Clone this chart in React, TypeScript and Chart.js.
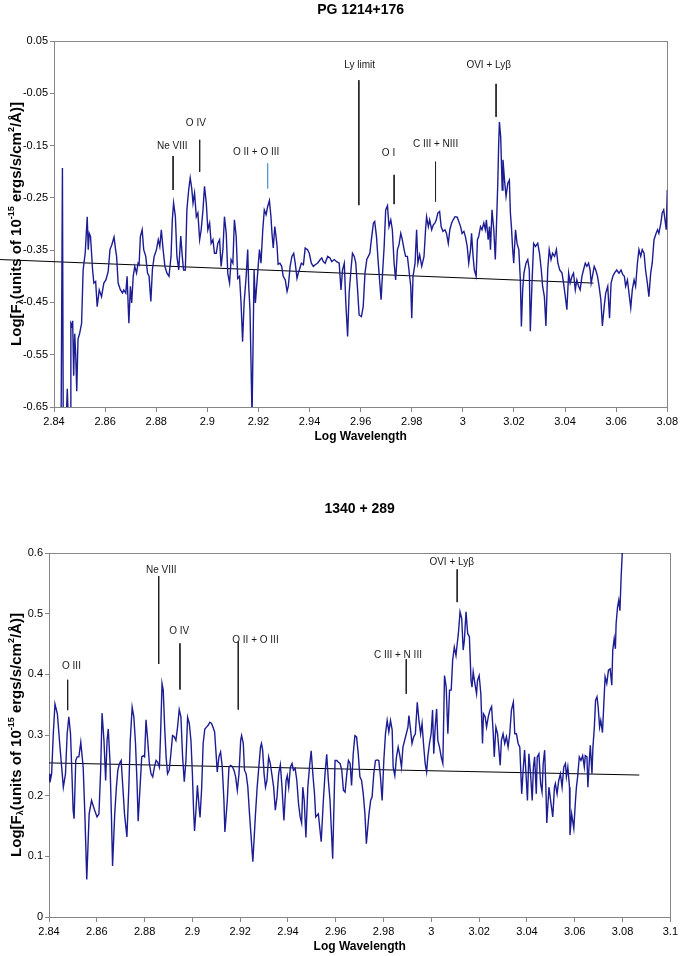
import React, { useEffect, useRef } from 'react';
import { Chart, registerables } from 'chart.js';

Chart.register(...registerables);

const FONT = '"Liberation Sans", Arial, Helvetica, sans-serif';

// ---------- PG 1214+176 (top panel) ----------
const topTitle = 'PG 1214+176';
const topXTicks = [2.84, 2.86, 2.88, 2.9, 2.92, 2.94, 2.96, 2.98, 3.0, 3.02, 3.04, 3.06, 3.08];
const topYTicks = [-0.65, -0.55, -0.45, -0.35, -0.25, -0.15, -0.05, 0.05];
// [log wavelength, log flux]
const topSpectrum: [number, number][] = [
  [2.8428,-0.66],[2.8433,-0.193],[2.8436,-0.66],[2.8449,-0.66],[2.8452,-0.615],[2.8455,-0.66],[2.8463,-0.66],
  [2.8466,-0.49],[2.8470,-0.495],[2.8473,-0.485],[2.8477,-0.59],[2.8481,-0.51],[2.8485,-0.55],[2.8489,-0.62],
  [2.8494,-0.52],[2.8500,-0.51],[2.8508,-0.49],[2.8514,-0.388],[2.8522,-0.356],[2.8530,-0.286],[2.8534,-0.349],
  [2.8538,-0.318],[2.8543,-0.324],[2.8551,-0.388],[2.8556,-0.413],[2.8563,-0.410],[2.8569,-0.458],[2.8577,-0.426],
  [2.8586,-0.439],[2.8595,-0.413],[2.8603,-0.407],[2.8612,-0.391],[2.8619,-0.349],[2.8626,-0.340],[2.8635,-0.325],
  [2.8641,-0.349],[2.8645,-0.362],[2.8651,-0.413],[2.8660,-0.426],[2.8668,-0.432],[2.8673,-0.426],[2.8681,-0.432],
  [2.8686,-0.400],[2.8693,-0.490],[2.8699,-0.419],[2.8704,-0.451],[2.8710,-0.400],[2.8716,-0.381],[2.8723,-0.394],
  [2.8729,-0.375],[2.8733,-0.378],[2.8738,-0.324],[2.8745,-0.311],[2.8751,-0.349],[2.8759,-0.362],[2.8766,-0.394],
  [2.8772,-0.400],[2.8779,-0.448],[2.8785,-0.388],[2.8792,-0.362],[2.8801,-0.349],[2.8808,-0.330],[2.8814,-0.343],
  [2.8820,-0.311],[2.8827,-0.349],[2.8834,-0.381],[2.8842,-0.394],[2.8850,-0.400],[2.8858,-0.362],[2.8863,-0.292],
  [2.8868,-0.260],[2.8875,-0.286],[2.8881,-0.362],[2.8888,-0.388],[2.8896,-0.323],[2.8902,-0.362],[2.8907,-0.388],
  [2.8914,-0.388],[2.8920,-0.273],[2.8927,-0.235],[2.8933,-0.212],[2.8939,-0.232],[2.8944,-0.260],[2.8950,-0.241],
  [2.8957,-0.286],[2.8963,-0.279],[2.8970,-0.330],[2.8976,-0.311],[2.8983,-0.273],[2.8989,-0.228],[2.8996,-0.260],
  [2.9002,-0.311],[2.9009,-0.298],[2.9015,-0.337],[2.9022,-0.330],[2.9028,-0.356],[2.9035,-0.356],[2.9041,-0.337],
  [2.9048,-0.330],[2.9054,-0.381],[2.9061,-0.349],[2.9067,-0.286],[2.9074,-0.318],[2.9080,-0.394],[2.9087,-0.413],
  [2.9093,-0.368],[2.9100,-0.375],[2.9106,-0.292],[2.9113,-0.324],[2.9119,-0.404],[2.9126,-0.400],[2.9132,-0.451],
  [2.9138,-0.525],[2.9144,-0.450],[2.9152,-0.400],[2.9158,-0.349],[2.9162,-0.419],[2.9167,-0.464],[2.9175,-0.67],
  [2.9183,-0.388],[2.9188,-0.451],[2.9197,-0.394],[2.9204,-0.349],[2.9210,-0.375],[2.9217,-0.311],[2.9223,-0.273],
  [2.9230,-0.282],[2.9236,-0.267],[2.9243,-0.255],[2.9249,-0.286],[2.9253,-0.318],[2.9258,-0.346],[2.9264,-0.305],
  [2.9269,-0.324],[2.9273,-0.343],[2.9277,-0.377],[2.9284,-0.375],[2.9291,-0.381],[2.9297,-0.400],[2.9305,-0.407],
  [2.9312,-0.429],[2.9317,-0.419],[2.9324,-0.381],[2.9331,-0.362],[2.9338,-0.356],[2.9344,-0.375],[2.9351,-0.404],
  [2.9356,-0.394],[2.9360,-0.388],[2.9368,-0.375],[2.9376,-0.378],[2.9383,-0.346],[2.9392,-0.349],[2.9399,-0.356],
  [2.9407,-0.375],[2.9415,-0.381],[2.9422,-0.378],[2.9431,-0.375],[2.9442,-0.368],[2.9448,-0.365],[2.9454,-0.372],
  [2.9461,-0.375],[2.9471,-0.362],[2.9480,-0.365],[2.9487,-0.372],[2.9497,-0.368],[2.9506,-0.372],[2.9516,-0.375],
  [2.9523,-0.426],[2.9529,-0.388],[2.9536,-0.375],[2.9542,-0.451],[2.9549,-0.515],[2.9555,-0.432],[2.9562,-0.388],
  [2.9568,-0.356],[2.9575,-0.362],[2.9581,-0.375],[2.9588,-0.426],[2.9594,-0.474],[2.9603,-0.477],[2.9610,-0.458],
  [2.9617,-0.394],[2.9624,-0.368],[2.9630,-0.362],[2.9636,-0.356],[2.9642,-0.330],[2.9650,-0.298],[2.9655,-0.295],
  [2.9662,-0.324],[2.9668,-0.368],[2.9675,-0.413],[2.9680,-0.445],[2.9685,-0.400],[2.9692,-0.343],[2.9698,-0.273],
  [2.9705,-0.265],[2.9711,-0.305],[2.9718,-0.292],[2.9724,-0.311],[2.9731,-0.375],[2.9737,-0.407],[2.9744,-0.349],
  [2.9750,-0.340],[2.9757,-0.318],[2.9763,-0.330],[2.9770,-0.349],[2.9776,-0.362],[2.9783,-0.362],[2.9789,-0.388],
  [2.9796,-0.419],[2.9800,-0.480],[2.9805,-0.400],[2.9813,-0.375],[2.9819,-0.311],[2.9824,-0.375],[2.9831,-0.359],
  [2.9839,-0.381],[2.9848,-0.362],[2.9854,-0.311],[2.9858,-0.286],[2.9865,-0.305],[2.9870,-0.292],[2.9878,-0.311],
  [2.9884,-0.302],[2.9891,-0.298],[2.9896,-0.292],[2.9902,-0.279],[2.9909,-0.276],[2.9915,-0.305],[2.9922,-0.314],
  [2.9930,-0.311],[2.9936,-0.318],[2.9943,-0.337],[2.9949,-0.311],[2.9956,-0.298],[2.9962,-0.292],[2.9969,-0.286],
  [2.9978,-0.287],[2.9984,-0.295],[2.9991,-0.305],[2.9997,-0.318],[3.0004,-0.314],[3.0010,-0.324],[3.0017,-0.343],
  [3.0023,-0.375],[3.0030,-0.349],[3.0034,-0.318],[3.0040,-0.362],[3.0045,-0.388],[3.0052,-0.400],[3.0057,-0.330],
  [3.0062,-0.324],[3.0069,-0.305],[3.0075,-0.311],[3.0082,-0.298],[3.0088,-0.311],[3.0092,-0.292],[3.0099,-0.330],
  [3.0104,-0.305],[3.0108,-0.349],[3.0114,-0.273],[3.0121,-0.311],[3.0127,-0.368],[3.0131,-0.311],[3.0137,-0.216],
  [3.0140,-0.150],[3.0143,-0.105],[3.0148,-0.133],[3.0154,-0.235],[3.0157,-0.177],[3.0163,-0.216],[3.0169,-0.247],
  [3.0176,-0.222],[3.0182,-0.216],[3.0186,-0.279],[3.0190,-0.305],[3.0195,-0.349],[3.0199,-0.375],[3.0206,-0.311],
  [3.0212,-0.337],[3.0219,-0.349],[3.0225,-0.407],[3.0229,-0.496],[3.0234,-0.426],[3.0239,-0.394],[3.0247,-0.375],
  [3.0254,-0.368],[3.0260,-0.388],[3.0264,-0.505],[3.0271,-0.407],[3.0277,-0.337],[3.0284,-0.343],[3.0293,-0.337],
  [3.0300,-0.356],[3.0307,-0.388],[3.0312,-0.419],[3.0319,-0.439],[3.0325,-0.495],[3.0332,-0.388],[3.0338,-0.349],
  [3.0345,-0.368],[3.0351,-0.356],[3.0359,-0.362],[3.0366,-0.349],[3.0372,-0.375],[3.0379,-0.388],[3.0388,-0.394],
  [3.0394,-0.413],[3.0401,-0.439],[3.0407,-0.464],[3.0414,-0.394],[3.0420,-0.413],[3.0427,-0.400],[3.0433,-0.394],
  [3.0440,-0.426],[3.0446,-0.407],[3.0453,-0.419],[3.0459,-0.426],[3.0466,-0.400],[3.0472,-0.388],[3.0479,-0.375],
  [3.0485,-0.381],[3.0492,-0.375],[3.0498,-0.388],[3.0502,-0.413],[3.0507,-0.400],[3.0514,-0.381],[3.0520,-0.388],
  [3.0527,-0.400],[3.0533,-0.419],[3.0540,-0.445],[3.0546,-0.495],[3.0553,-0.458],[3.0559,-0.432],[3.0567,-0.419],
  [3.0574,-0.480],[3.0580,-0.413],[3.0587,-0.400],[3.0593,-0.394],[3.0602,-0.388],[3.0611,-0.394],[3.0619,-0.388],
  [3.0626,-0.397],[3.0632,-0.400],[3.0637,-0.419],[3.0644,-0.407],[3.0650,-0.432],[3.0657,-0.460],[3.0663,-0.426],
  [3.0670,-0.407],[3.0676,-0.419],[3.0683,-0.375],[3.0689,-0.349],[3.0696,-0.362],[3.0702,-0.349],[3.0709,-0.356],
  [3.0715,-0.388],[3.0722,-0.413],[3.0728,-0.439],[3.0735,-0.394],[3.0741,-0.375],[3.0748,-0.330],[3.0756,-0.318],
  [3.0762,-0.311],[3.0767,-0.318],[3.0775,-0.298],[3.0780,-0.279],[3.0786,-0.273],[3.0791,-0.292],[3.0796,-0.311],
  [3.0800,-0.235],
];
const topTrend: [number, number][] = [[2.8189, -0.368], [3.0511, -0.413]];
const topMarkNames = ['Ne VIII', 'O IV', 'O II + O III', 'Ly limit', 'O I', 'C III + NIII', 'OVI + Lyβ'];
const topMarkTextX = [2.8863, 2.8955, 2.9191, 2.9596, 2.9709, 2.9893, 3.0101];
const topMarkTextY = [-0.152, -0.108, -0.162, 0.003, -0.164, -0.148, 0.003];
const topMarkLineX = [2.8866, 2.8970, 2.9236, 2.9593, 2.9731, 2.9893, 3.0130];
const topMarkLineTop = [-0.170, -0.139, -0.184, -0.025, -0.206, -0.181, -0.032];
const topMarkLineBottom = [-0.235, -0.200, -0.232, -0.264, -0.262, -0.257, -0.095];
const topMarkColors = ['#222', '#222', '#5b9bd5', '#222', '#222', '#222', '#222'];

// ---------- 1340 + 289 (bottom panel) ----------
const botTitle = '1340 + 289';
const botXTicks = [2.84, 2.86, 2.88, 2.9, 2.92, 2.94, 2.96, 2.98, 3.0, 3.02, 3.04, 3.06, 3.08, 3.1];
const botYTicks = [0, 0.1, 0.2, 0.3, 0.4, 0.5, 0.6];
const botSpectrum: [number, number][] = [
  [2.8400,0.236],[2.8404,0.222],[2.8411,0.236],[2.8418,0.302],[2.8425,0.351],[2.8435,0.335],[2.8446,0.280],
  [2.8460,0.214],[2.8469,0.236],[2.8476,0.302],[2.8483,0.330],[2.8490,0.302],[2.8496,0.236],[2.8501,0.176],
  [2.8505,0.162],[2.8512,0.258],[2.8518,0.264],[2.8525,0.264],[2.8533,0.288],[2.8543,0.247],[2.8550,0.170],
  [2.8558,0.062],[2.8568,0.170],[2.8578,0.192],[2.8591,0.176],[2.8601,0.165],[2.8609,0.170],[2.8616,0.240],
  [2.8622,0.336],[2.8630,0.291],[2.8637,0.225],[2.8643,0.291],[2.8648,0.310],[2.8655,0.258],[2.8661,0.170],
  [2.8666,0.084],[2.8675,0.170],[2.8682,0.214],[2.8688,0.242],[2.8695,0.253],[2.8702,0.258],[2.8709,0.214],
  [2.8716,0.170],[2.8726,0.132],[2.8734,0.214],[2.8740,0.291],[2.8748,0.346],[2.8755,0.330],[2.8762,0.286],
  [2.8769,0.214],[2.8773,0.158],[2.8781,0.214],[2.8788,0.264],[2.8795,0.266],[2.8800,0.264],[2.8806,0.325],
  [2.8813,0.291],[2.8820,0.253],[2.8827,0.236],[2.8834,0.231],[2.8841,0.247],[2.8848,0.258],[2.8855,0.255],
  [2.8862,0.247],[2.8867,0.302],[2.8873,0.385],[2.8878,0.374],[2.8884,0.313],[2.8890,0.264],[2.8896,0.236],
  [2.8903,0.242],[2.8910,0.269],[2.8917,0.299],[2.8924,0.297],[2.8931,0.291],[2.8938,0.313],[2.8945,0.342],
  [2.8952,0.330],[2.8959,0.264],[2.8966,0.223],[2.8973,0.258],[2.8980,0.329],[2.8987,0.319],[2.8994,0.291],
  [2.9000,0.236],[2.9005,0.176],[2.9009,0.142],[2.9014,0.170],[2.9021,0.217],[2.9028,0.181],[2.9032,0.164],
  [2.9039,0.214],[2.9045,0.286],[2.9052,0.310],[2.9059,0.313],[2.9066,0.316],[2.9073,0.321],[2.9080,0.319],
  [2.9086,0.313],[2.9093,0.305],[2.9100,0.264],[2.9104,0.239],[2.9111,0.264],[2.9118,0.272],[2.9125,0.247],
  [2.9132,0.192],[2.9136,0.140],[2.9146,0.192],[2.9153,0.247],[2.9160,0.250],[2.9167,0.248],[2.9174,0.242],
  [2.9181,0.231],[2.9188,0.209],[2.9195,0.236],[2.9202,0.291],[2.9206,0.299],[2.9213,0.286],[2.9218,0.242],
  [2.9225,0.236],[2.9232,0.214],[2.9239,0.170],[2.9253,0.091],[2.9264,0.170],[2.9271,0.214],[2.9278,0.247],
  [2.9285,0.280],[2.9289,0.286],[2.9294,0.275],[2.9300,0.236],[2.9306,0.214],[2.9312,0.225],[2.9319,0.264],
  [2.9326,0.253],[2.9333,0.234],[2.9340,0.214],[2.9347,0.176],[2.9354,0.198],[2.9361,0.236],[2.9368,0.251],
  [2.9375,0.214],[2.9383,0.159],[2.9392,0.225],[2.9397,0.233],[2.9403,0.214],[2.9410,0.247],[2.9417,0.253],
  [2.9423,0.242],[2.9430,0.245],[2.9437,0.225],[2.9444,0.187],[2.9451,0.165],[2.9457,0.155],[2.9462,0.214],
  [2.9468,0.192],[2.9475,0.131],[2.9483,0.214],[2.9490,0.247],[2.9497,0.274],[2.9504,0.236],[2.9511,0.203],
  [2.9516,0.165],[2.9527,0.170],[2.9539,0.124],[2.9548,0.192],[2.9555,0.236],[2.9562,0.268],[2.9569,0.225],
  [2.9576,0.192],[2.9587,0.096],[2.9597,0.258],[2.9604,0.258],[2.9611,0.255],[2.9618,0.253],[2.9625,0.242],
  [2.9632,0.209],[2.9639,0.206],[2.9646,0.236],[2.9653,0.258],[2.9660,0.253],[2.9666,0.217],[2.9673,0.269],
  [2.9680,0.299],[2.9687,0.297],[2.9694,0.269],[2.9701,0.231],[2.9708,0.225],[2.9715,0.203],[2.9722,0.170],
  [2.9728,0.121],[2.9739,0.170],[2.9746,0.192],[2.9752,0.198],[2.9759,0.236],[2.9766,0.258],[2.9773,0.259],
  [2.9780,0.258],[2.9787,0.231],[2.9794,0.192],[2.9801,0.258],[2.9808,0.302],[2.9815,0.324],[2.9822,0.305],
  [2.9829,0.324],[2.9836,0.308],[2.9840,0.247],[2.9847,0.233],[2.9854,0.264],[2.9861,0.280],[2.9868,0.266],
  [2.9875,0.247],[2.9881,0.280],[2.9888,0.291],[2.9895,0.302],[2.9902,0.313],[2.9906,0.332],[2.9913,0.308],
  [2.9919,0.286],[2.9926,0.297],[2.9933,0.302],[2.9941,0.354],[2.9948,0.324],[2.9955,0.302],[2.9961,0.319],
  [2.9967,0.286],[2.9974,0.253],[2.9980,0.239],[2.9985,0.264],[2.9992,0.286],[2.9999,0.302],[3.0005,0.341],
  [3.0010,0.269],[3.0016,0.313],[3.0022,0.343],[3.0027,0.291],[3.0034,0.280],[3.0041,0.264],[3.0048,0.253],
  [3.0055,0.398],[3.0062,0.379],[3.0069,0.302],[3.0076,0.374],[3.0083,0.374],[3.0089,0.423],[3.0096,0.445],
  [3.0103,0.431],[3.0108,0.450],[3.0113,0.467],[3.0120,0.503],[3.0127,0.492],[3.0133,0.440],[3.0138,0.456],
  [3.0145,0.503],[3.0152,0.467],[3.0159,0.462],[3.0166,0.390],[3.0170,0.379],[3.0175,0.404],[3.0182,0.385],
  [3.0189,0.368],[3.0193,0.390],[3.0200,0.398],[3.0207,0.368],[3.0214,0.286],[3.0218,0.335],[3.0225,0.330],
  [3.0231,0.313],[3.0238,0.330],[3.0245,0.341],[3.0252,0.347],[3.0259,0.302],[3.0263,0.264],[3.0270,0.313],
  [3.0277,0.302],[3.0284,0.269],[3.0288,0.250],[3.0293,0.291],[3.0300,0.302],[3.0307,0.286],[3.0314,0.297],
  [3.0321,0.280],[3.0328,0.302],[3.0335,0.341],[3.0343,0.354],[3.0349,0.302],[3.0356,0.302],[3.0363,0.286],
  [3.0370,0.280],[3.0374,0.242],[3.0378,0.203],[3.0384,0.242],[3.0390,0.275],[3.0396,0.236],[3.0402,0.192],
  [3.0408,0.269],[3.0415,0.236],[3.0422,0.192],[3.0427,0.247],[3.0432,0.264],[3.0439,0.203],[3.0443,0.264],
  [3.0450,0.269],[3.0457,0.220],[3.0463,0.206],[3.0468,0.253],[3.0474,0.275],[3.0479,0.214],[3.0483,0.155],
  [3.0492,0.214],[3.0499,0.192],[3.0508,0.165],[3.0515,0.214],[3.0519,0.220],[3.0526,0.203],[3.0533,0.225],
  [3.0540,0.236],[3.0547,0.214],[3.0554,0.247],[3.0561,0.253],[3.0565,0.231],[3.0571,0.247],[3.0578,0.214],
  [3.0580,0.135],[3.0587,0.170],[3.0596,0.146],[3.0603,0.192],[3.0607,0.214],[3.0612,0.231],[3.0619,0.264],
  [3.0626,0.258],[3.0633,0.266],[3.0640,0.247],[3.0644,0.266],[3.0651,0.264],[3.0655,0.214],[3.0661,0.258],
  [3.0665,0.283],[3.0672,0.236],[3.0676,0.280],[3.0682,0.313],[3.0687,0.357],[3.0693,0.363],[3.0698,0.346],
  [3.0704,0.313],[3.0709,0.324],[3.0716,0.304],[3.0721,0.346],[3.0727,0.396],[3.0734,0.385],[3.0741,0.407],
  [3.0748,0.409],[3.0755,0.382],[3.0759,0.440],[3.0765,0.459],[3.0770,0.442],[3.0773,0.483],[3.0779,0.511],
  [3.0784,0.522],[3.0789,0.505],[3.0794,0.560],[3.0800,0.610],[3.0810,0.660],
];
const botTrend: [number, number][] = [[2.84, 0.254], [3.087, 0.234]];
const botMarkNames = ['O III', 'Ne VIII', 'O IV', 'O II + O III', 'C III + N III', 'OVI + Lyβ'];
const botMarkTextX = [2.8494, 2.8870, 2.8945, 2.9264, 2.9860, 3.0085];
const botMarkTextY = [0.413, 0.572, 0.4715, 0.457, 0.432, 0.585];
const botMarkLineX = [2.8478, 2.8859, 2.8948, 2.9192, 2.9895, 3.0108];
const botMarkLineTop = [0.391, 0.562, 0.451, 0.454, 0.425, 0.573];
const botMarkLineBottom = [0.341, 0.417, 0.375, 0.342, 0.368, 0.519];
const botMarkColors = ['#222', '#222', '#222', '#222', '#222', '#222'];

// ---------- layout / styling ----------
type PanelCfg = {
  title: string;
  top: number;
  width: number;
  height: number;
  padTop: number;
  padRight: number;
  yAxisWidth: number;
  xAxisHeight: number;
  titleGap: number;
  xTitleGap: number;
  xMin: number; xMax: number; xTicks: number[];
  yMin: number; yMax: number; yTicks: number[];
  spectrum: [number, number][];
  trend: [number, number][];
  trendClip: boolean;
  markNames: string[]; markTextX: number[]; markTextY: number[];
  markLineX: number[]; markLineTop: number[]; markLineBottom: number[]; markColors: string[];
};

const AXIS_GRAY = '#868686';
const LINE_BLUE = '#1c1c94';

const fmt = (v: number) => String(Math.round(v * 100) / 100);

function drawRichVertical(ctx: CanvasRenderingContext2D, cx: number, cy: number) {
  const parts: { t: string; k: 'n' | 'sub' | 'sup' }[] = [
    { t: 'Log[F', k: 'n' },
    { t: 'λ', k: 'sub' },
    { t: '(units of 10', k: 'n' },
    { t: '-15', k: 'sup' },
    { t: ' ergs/s/cm', k: 'n' },
    { t: '2', k: 'sup' },
    { t: '/Å)]', k: 'n' },
  ];
  const big = `bold 15px ${FONT}`;
  const small = `bold 9px ${FONT}`;
  let total = 0;
  const widths = parts.map((p) => {
    ctx.font = p.k === 'n' ? big : small;
    const w = ctx.measureText(p.t).width;
    total += w;
    return w;
  });
  ctx.save();
  ctx.translate(cx, cy);
  ctx.rotate(-Math.PI / 2);
  ctx.textAlign = 'left';
  ctx.textBaseline = 'middle';
  ctx.fillStyle = '#000';
  let x = -total / 2;
  parts.forEach((p, i) => {
    ctx.font = p.k === 'n' ? big : small;
    const dy = p.k === 'sub' ? 4 : p.k === 'sup' ? -5 : 0;
    ctx.fillText(p.t, x, dy);
    x += widths[i];
  });
  ctx.restore();
}

function buildConfig(cfg: PanelCfg): any {
  const markDatasets = cfg.markLineX.map((x, i) => ({
    data: [
      { x, y: cfg.markLineTop[i] },
      { x, y: cfg.markLineBottom[i] },
    ],
    borderColor: cfg.markColors[i],
    borderWidth: 1,
    pointRadius: 0,
    tension: 0,
    fill: false,
  }));

  const framePlugin = {
    id: 'frame',
    beforeDatasetsDraw(chart: any) {
      const { ctx, chartArea } = chart;
      ctx.save();
      ctx.strokeStyle = AXIS_GRAY;
      ctx.lineWidth = 1;
      ctx.strokeRect(
        Math.round(chartArea.left) + 0.5,
        Math.round(chartArea.top) + 0.5,
        Math.round(chartArea.right - chartArea.left),
        Math.round(chartArea.bottom - chartArea.top)
      );
      ctx.restore();
    },
  };

  const textPlugin = {
    id: 'texts',
    afterDraw(chart: any) {
      const { ctx, chartArea, scales } = chart;
      const xs = scales.x;
      const ys = scales.y;
      const midX = (chartArea.left + chartArea.right) / 2;
      ctx.save();
      ctx.fillStyle = '#000';
      ctx.textAlign = 'center';
      ctx.textBaseline = 'middle';
      ctx.font = `bold 14px ${FONT}`;
      ctx.fillText(cfg.title, midX, chartArea.top - cfg.titleGap);
      ctx.font = `bold 12px ${FONT}`;
      ctx.fillText('Log Wavelength', midX, chartArea.bottom + cfg.xTitleGap);
      drawRichVertical(ctx, 17, (chartArea.top + chartArea.bottom) / 2);
      ctx.font = `10px ${FONT}`;
      ctx.fillStyle = '#1a1a1a';
      ctx.textAlign = 'center';
      ctx.textBaseline = 'middle';
      cfg.markNames.forEach((t, i) => {
        ctx.fillText(t, xs.getPixelForValue(cfg.markTextX[i]), ys.getPixelForValue(cfg.markTextY[i]));
      });
      ctx.restore();
    },
  };

  return {
    type: 'line',
    data: {
      datasets: [
        {
          data: cfg.spectrum.map(([x, y]) => ({ x, y })),
          borderColor: LINE_BLUE,
          borderWidth: 1.4,
          pointRadius: 0,
          tension: 0,
          fill: false,
        },
        {
          data: cfg.trend.map(([x, y]) => ({ x, y })),
          borderColor: '#000',
          borderWidth: 1,
          pointRadius: 0,
          tension: 0,
          fill: false,
          clip: cfg.trendClip ? undefined : false,
        },
        ...markDatasets,
      ],
    },
    options: {
      animation: false,
      responsive: false,
      devicePixelRatio: 1,
      events: [],
      layout: { padding: { top: cfg.padTop, right: cfg.padRight, left: 0, bottom: 0 } },
      plugins: {
        legend: { display: false },
        title: { display: false },
        tooltip: { enabled: false },
      },
      scales: {
        x: {
          type: 'linear',
          min: cfg.xMin,
          max: cfg.xMax,
          afterBuildTicks: (scale: any) => {
            scale.ticks = cfg.xTicks.map((v) => ({ value: v }));
          },
          afterFit: (scale: any) => {
            scale.height = cfg.xAxisHeight;
          },
          ticks: {
            autoSkip: false,
            maxRotation: 0,
            minRotation: 0,
            padding: 3,
            color: '#000',
            font: { family: FONT, size: 11 },
            callback: (v: number) => fmt(v),
          },
          grid: {
            display: true,
            drawOnChartArea: false,
            drawTicks: true,
            tickLength: 5,
            color: AXIS_GRAY,
          },
          border: { display: true, color: AXIS_GRAY, width: 1 },
        },
        y: {
          type: 'linear',
          min: cfg.yMin,
          max: cfg.yMax,
          afterBuildTicks: (scale: any) => {
            scale.ticks = cfg.yTicks.map((v) => ({ value: v }));
          },
          afterFit: (scale: any) => {
            scale.width = cfg.yAxisWidth;
          },
          ticks: {
            autoSkip: false,
            padding: 2,
            color: '#000',
            font: { family: FONT, size: 11 },
            callback: (v: number) => fmt(v),
          },
          grid: {
            display: true,
            drawOnChartArea: false,
            drawTicks: true,
            tickLength: 4,
            color: AXIS_GRAY,
          },
          border: { display: true, color: AXIS_GRAY, width: 1 },
        },
      },
    },
    plugins: [framePlugin, textPlugin],
  };
}

const topCfg: PanelCfg = {
  title: topTitle,
  top: 0,
  width: 681,
  height: 450,
  padTop: 41,
  padRight: 12,
  yAxisWidth: 54,
  xAxisHeight: 43,
  titleGap: 31,
  xTitleGap: 30,
  xMin: 2.84, xMax: 3.08, xTicks: topXTicks,
  yMin: -0.65, yMax: 0.05, yTicks: topYTicks,
  spectrum: topSpectrum,
  trend: topTrend,
  trendClip: false,
  markNames: topMarkNames, markTextX: topMarkTextX, markTextY: topMarkTextY,
  markLineX: topMarkLineX, markLineTop: topMarkLineTop, markLineBottom: topMarkLineBottom, markColors: topMarkColors,
};

const botCfg: PanelCfg = {
  title: botTitle,
  top: 450,
  width: 681,
  height: 506,
  padTop: 103,
  padRight: 7,
  yAxisWidth: 49,
  xAxisHeight: 39,
  titleGap: 44,
  xTitleGap: 30,
  xMin: 2.84, xMax: 3.1, xTicks: botXTicks,
  yMin: 0, yMax: 0.6, yTicks: botYTicks,
  spectrum: botSpectrum,
  trend: botTrend,
  trendClip: true,
  markNames: botMarkNames, markTextX: botMarkTextX, markTextY: botMarkTextY,
  markLineX: botMarkLineX, markLineTop: botMarkLineTop, markLineBottom: botMarkLineBottom, markColors: botMarkColors,
};

function Panel({ cfg }: { cfg: PanelCfg }) {
  const ref = useRef<HTMLCanvasElement>(null);
  useEffect(() => {
    if (!ref.current) return;
    const chart = new Chart(ref.current, buildConfig(cfg));
    return () => chart.destroy();
  }, [cfg]);
  return (
    <canvas
      ref={ref}
      width={cfg.width}
      height={cfg.height}
      style={{ position: 'absolute', left: 0, top: cfg.top, width: cfg.width, height: cfg.height, display: 'block' }}
    />
  );
}

export default function App() {
  return (
    <div style={{ position: 'absolute', left: 0, top: 0, width: 681, height: 956, background: '#fff' }}>
      <Panel cfg={topCfg} />
      <Panel cfg={botCfg} />
    </div>
  );
}
